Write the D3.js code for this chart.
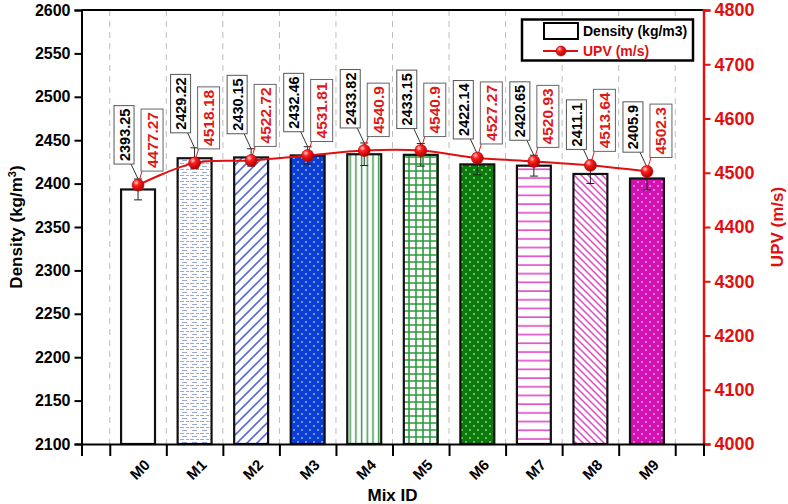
<!DOCTYPE html>
<html><head><meta charset="utf-8">
<script src="https://cdn.jsdelivr.net/npm/d3@7"></script>
<style>
html,body{margin:0;padding:0;background:#fff;}
svg{display:block;font-family:"Liberation Sans",Arial,sans-serif;font-weight:bold;}
</style></head>
<body>
<svg id="chart" width="788" height="504"></svg>
<script>
const categories = ["M0","M1","M2","M3","M4","M5","M6","M7","M8","M9"];
const density = [2393.25,2429.22,2430.15,2432.46,2433.82,2433.15,2422.14,2420.65,2411.1,2405.9];
const densityErr = [12,12,10,10,13,13,12,12,11,13];
const upv = [4477.27,4518.18,4522.72,4531.81,4540.9,4540.9,4527.27,4520.93,4513.64,4502.3];
const densityTicks = [2100,2150,2200,2250,2300,2350,2400,2450,2500,2550,2600];
const upvTicks = [4000,4100,4200,4300,4400,4500,4600,4700,4800];
const fills = ["#ffffff","url(#p1)","url(#p2)","url(#p3)","url(#p4)","url(#p5)","url(#p6)","url(#p7)","url(#p8)","url(#p9)"];

const svg = d3.select("#chart");
const L = 81.5, R = 703.5, T = 10, B = 444;
const x = d3.scaleLinear().domain([0, categories.length + 1]).range([L, R]);
const yL = d3.scaleLinear().domain([2100, 2600]).range([B, T]);
const yR = d3.scaleLinear().domain([4000, 4800]).range([B, T]);
const bw = (x(1) - x(0)) * 0.6;

// defs: patterns and gradient
const defs = svg.append("defs");
function pat(id, w, h, bg, draw) {
  const p = defs.append("pattern").attr("id", id).attr("patternUnits", "userSpaceOnUse")
    .attr("width", w).attr("height", h);
  p.append("rect").attr("width", w).attr("height", h).attr("fill", bg);
  draw(p);
}
pat("p1", 10, 6, "#fff", p => {
  p.append("path").attr("d", "M0,1.5H4M6,1.5H9M2,4.5H7").attr("stroke", "#9da8d6").attr("stroke-width", 1);
});
pat("p2", 10, 10, "#fff", p => {
  p.append("path").attr("d", "M0,10L10,0M-2,2L2,-2M8,12L12,8").attr("stroke", "#5a6cd4").attr("stroke-width", 1.6);
});
pat("p3", 8, 8, "#0a3ed4", p => {
  p.append("circle").attr("cx", 2).attr("cy", 2).attr("r", 0.8).attr("fill", "#fff");
  p.append("circle").attr("cx", 6).attr("cy", 6).attr("r", 0.8).attr("fill", "#fff");
});
pat("p4", 5.7, 10, "#fff", p => {
  p.append("path").attr("d", "M2.5,0V10").attr("stroke", "#3c9a4c").attr("stroke-width", 1.5);
});
pat("p5", 7, 7, "#fff", p => {
  p.append("path").attr("d", "M3,0V7M0,3H7").attr("stroke", "#2c9a3c").attr("stroke-width", 1.6);
});
pat("p6", 8, 8, "#0b7b0b", p => {
  p.append("circle").attr("cx", 2).attr("cy", 2).attr("r", 0.8).attr("fill", "#fff");
  p.append("circle").attr("cx", 6).attr("cy", 6).attr("r", 0.8).attr("fill", "#fff");
});
pat("p7", 10, 8.7, "#fff", p => {
  p.append("path").attr("d", "M0,4H10").attr("stroke", "#e048c8").attr("stroke-width", 1.6);
});
pat("p8", 7, 7, "#fff", p => {
  p.append("path").attr("d", "M0,0L7,7M-2,5L2,9M5,-2L9,2").attr("stroke", "#e048c8").attr("stroke-width", 1.5);
});
pat("p9", 8, 8, "#d412b4", p => {
  p.append("circle").attr("cx", 2).attr("cy", 2).attr("r", 0.8).attr("fill", "#fff");
  p.append("circle").attr("cx", 6).attr("cy", 6).attr("r", 0.8).attr("fill", "#fff");
});
const g = defs.append("radialGradient").attr("id", "ball").attr("cx", "35%").attr("cy", "30%").attr("r", "70%");
g.append("stop").attr("offset", "0%").attr("stop-color", "#ffd0d0");
g.append("stop").attr("offset", "35%").attr("stop-color", "#ff2020");
g.append("stop").attr("offset", "100%").attr("stop-color", "#b00000");

// gridlines
const gridTicks = d3.range(0.5, categories.length + 1, 1);
svg.append("g").selectAll("line").data(gridTicks).join("line")
  .attr("x1", d => x(d)).attr("x2", d => x(d)).attr("y1", T).attr("y2", B)
  .attr("stroke", "#bdbdbd").attr("stroke-width", 1).attr("stroke-dasharray", "6,5");

// bars
svg.append("g").selectAll("rect").data(density).join("rect")
  .attr("x", (d, i) => x(i + 1) - bw / 2).attr("width", bw)
  .attr("y", d => yL(d)).attr("height", d => yL(2100) - yL(d))
  .attr("fill", (d, i) => fills[i]).attr("stroke", "#111").attr("stroke-width", 2.2);

// error bars
const eg = svg.append("g").attr("stroke", "#222").attr("stroke-width", 1);
density.forEach((d, i) => {
  const cx = x(i + 1), y1 = yL(d + densityErr[i]), y2 = yL(d - densityErr[i]);
  eg.append("line").attr("x1", cx).attr("x2", cx).attr("y1", y1).attr("y2", y2);
  eg.append("line").attr("x1", cx - 4).attr("x2", cx + 4).attr("y1", y1).attr("y2", y1);
  eg.append("line").attr("x1", cx - 4).attr("x2", cx + 4).attr("y1", y2).attr("y2", y2);
});

// UPV line
const line = d3.line().x((d, i) => x(i + 1)).y(d => yR(d)).curve(d3.curveCatmullRom.alpha(0.5));
svg.append("path").datum(upv).attr("d", line).attr("fill", "none").attr("stroke", "#e01010").attr("stroke-width", 2);

// labels
const lg = svg.append("g");
density.forEach((d, i) => {
  const cx = x(i + 1);
  const errTop = yL(d + densityErr[i]);
  const dot = yR(upv[i]);
  const b1 = errTop - 15;
  const t1 = lg.append("text").text(d3.format("")(d)).attr("font-size", 14.5).attr("fill", "#000");
  const l1 = t1.node().getComputedTextLength();
  const h1 = l1 + 6;
  lg.insert("line", "text").attr("x1", cx - 7).attr("y1", b1).attr("x2", cx).attr("y2", errTop).attr("stroke", "#333").attr("stroke-width", 1);
  lg.insert("rect", "text").attr("x", cx - 24).attr("y", b1 - h1).attr("width", 20).attr("height", h1)
    .attr("fill", "#fff").attr("stroke", "#555").attr("stroke-width", 1);
  t1.attr("transform", `translate(${cx - 8.5},${b1 - 3}) rotate(-90)`);
  const b2 = dot - 14;
  const t2 = lg.append("text").text(d3.format("")(upv[i])).attr("font-size", 15.5).attr("fill", "#e01818");
  const l2 = t2.node().getComputedTextLength();
  const h2 = l2 + 6;
  lg.insert("line", "text").attr("x1", cx + 4).attr("y1", b2).attr("x2", cx + 1).attr("y2", dot - 4).attr("stroke", "#e01818").attr("stroke-width", 1);
  lg.insert("rect", "text").attr("x", cx + 3).attr("y", b2 - h2).attr("width", 22).attr("height", h2)
    .attr("fill", "#fff").attr("stroke", "#666").attr("stroke-width", 1);
  t2.attr("transform", `translate(${cx + 19.5},${b2 - 3}) rotate(-90)`);
});

// markers
svg.append("g").selectAll("circle").data(upv).join("circle")
  .attr("cx", (d, i) => x(i + 1)).attr("cy", d => yR(d)).attr("r", 6)
  .attr("fill", "url(#ball)").attr("stroke", "#c00000").attr("stroke-width", 0.6);

// frame top
svg.append("line").attr("x1", L).attr("x2", R).attr("y1", T).attr("y2", T).attr("stroke", "#000").attr("stroke-width", 2);

// left axis
const minorL = d3.range(2100, 2601, 10);
const axL = svg.append("g").attr("transform", `translate(${L},0)`);
axL.call(d3.axisLeft(yL).tickValues(minorL).tickSize(4).tickFormat(""));
axL.call(d3.axisLeft(yL).tickValues(densityTicks).tickSize(7).tickFormat(d3.format("d")).tickPadding(4));
axL.selectAll("path.domain").attr("stroke", "#000").attr("stroke-width", 2);
axL.selectAll("line").attr("stroke", "#000").attr("stroke-width", 2);
axL.selectAll("text").attr("font-size", 16).attr("font-weight", "bold").attr("fill", "#000")
  .attr("font-family", "Liberation Sans, Arial, sans-serif");

// right axis
const minorR = d3.range(4000, 4801, 12.5);
const axR = svg.append("g").attr("transform", `translate(${R},0)`);
axR.call(d3.axisRight(yR).tickValues(minorR).tickSize(4).tickFormat(""));
axR.call(d3.axisRight(yR).tickValues(upvTicks).tickSize(7).tickFormat(d3.format("d")).tickPadding(4));
axR.selectAll("path.domain").attr("stroke", "#e01010").attr("stroke-width", 2.5);
axR.selectAll("line").attr("stroke", "#e01010").attr("stroke-width", 2);
axR.selectAll("text").attr("font-size", 18).attr("font-weight", "bold").attr("fill", "#e01010")
  .attr("font-family", "Liberation Sans, Arial, sans-serif");

// bottom axis
const axB = svg.append("g").attr("transform", `translate(0,${B})`);
axB.call(d3.axisBottom(x).tickValues(gridTicks).tickSize(12).tickFormat(""));
axB.selectAll("path.domain").attr("stroke", "#000").attr("stroke-width", 2);
axB.selectAll("line").attr("stroke", "#000").attr("stroke-width", 2);

// category labels (rotated -45)
const catG = svg.append("g");
categories.forEach((c, i) => {
  const px = x(i + 1) + 5, py = B + 14;
  catG.append("text")
    .attr("transform", `translate(${px},${py}) rotate(-45)`)
    .attr("text-anchor", "end").attr("dy", "0.75em")
    .attr("font-size", 15).attr("fill", "#000")
    .text(c);
});

// axis titles
svg.append("text").attr("transform", `translate(22,${(T + B) / 2}) rotate(-90)`)
  .attr("text-anchor", "middle").attr("font-size", 17).attr("fill", "#000")
  .html('Density (kg/m<tspan dy="-6" font-size="11">3</tspan><tspan dy="6">)</tspan>');
svg.append("text").attr("transform", `translate(783,${(T + B) / 2}) rotate(-90)`)
  .attr("text-anchor", "middle").attr("font-size", 17).attr("fill", "#e01010").text("UPV (m/s)");
svg.append("text").attr("x", (L + R) / 2).attr("y", 501).attr("text-anchor", "middle")
  .attr("font-size", 17).attr("fill", "#000").text("Mix ID");

// legend
const leg = svg.append("g");
leg.append("rect").attr("x", 522).attr("y", 19.5).attr("width", 171).attr("height", 41)
  .attr("fill", "#fff").attr("stroke", "#000").attr("stroke-width", 2.5);
leg.append("rect").attr("x", 544).attr("y", 23).attr("width", 34).attr("height", 16)
  .attr("fill", "#fff").attr("stroke", "#000").attr("stroke-width", 2);
leg.append("text").attr("x", 583).attr("y", 36).attr("font-size", 14).attr("fill", "#000").text("Density (kg/m3)");
leg.append("line").attr("x1", 543).attr("x2", 578).attr("y1", 51).attr("y2", 51).attr("stroke", "#e01010").attr("stroke-width", 2);
leg.append("circle").attr("cx", 561).attr("cy", 51).attr("r", 5).attr("fill", "url(#ball)").attr("stroke", "#c00000").attr("stroke-width", 0.6);
leg.append("text").attr("x", 583).attr("y", 56).attr("font-size", 14).attr("fill", "#e01010").text("UPV (m/s)");
</script>
</body></html>
